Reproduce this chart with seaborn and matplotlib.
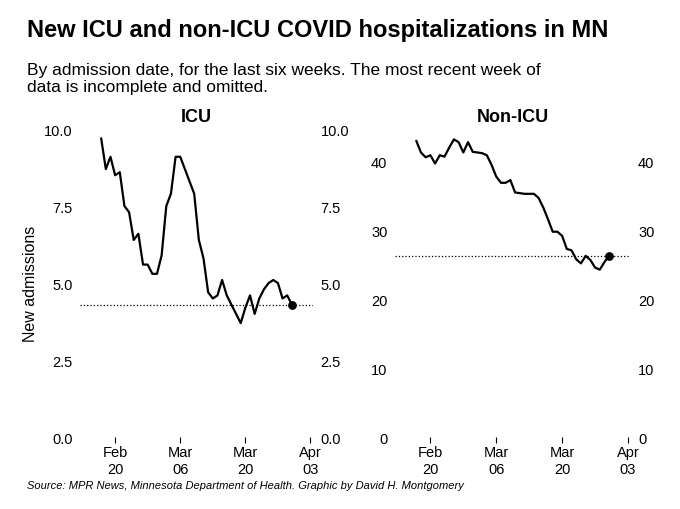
import pandas as pd
import numpy as np
import matplotlib
matplotlib.use('Agg')
import matplotlib.pyplot as plt
import seaborn as sns

dates = pd.date_range('2021-02-17', periods=42, freq='D')
icu = [9.7, 8.7, 9.1, 8.5, 8.6, 7.5, 7.3, 6.4, 6.6, 5.6, 5.6, 5.3, 5.3, 5.9,
       7.5, 7.9, 9.1, 9.1, 8.7, 8.3, 7.9, 6.4, 5.8, 4.7, 4.5, 4.6, 5.1, 4.6,
       4.3, 4.0, 3.7, 4.2, 4.6, 4.0, 4.5, 4.8, 5.0, 5.1, 5.0, 4.5, 4.6, 4.3]
non_icu = [43.0, 41.3, 40.6, 40.9, 39.7, 40.9, 40.7, 42.0, 43.2, 42.8, 41.3,
           42.8, 41.4, 41.3, 41.2, 40.9, 39.5, 37.8, 36.9, 36.9, 37.3, 35.5,
           35.4, 35.3, 35.3, 35.3, 34.7, 33.3, 31.6, 29.8, 29.8, 29.2, 27.3,
           27.1, 25.8, 25.2, 26.3, 25.7, 24.6, 24.3, 25.4, 26.3]
tick_dates = pd.to_datetime(['2021-02-20', '2021-03-06', '2021-03-20', '2021-04-03'])
tick_labels = ['Feb\n20', 'Mar\n06', 'Mar\n20', 'Apr\n03']

sns.set_style('white')
plt.rcParams['font.family'] = ['Liberation Sans', 'DejaVu Sans']
plt.rcParams['text.color'] = 'black'
plt.rcParams['xtick.color'] = 'black'
plt.rcParams['ytick.color'] = 'black'
plt.rcParams['axes.labelcolor'] = 'black'

fig = plt.figure(figsize=(6.8, 5.1), dpi=100)
ax1 = fig.add_axes([0.118, 0.141, 0.342, 0.604])
ax2 = fig.add_axes([0.581, 0.141, 0.346, 0.604])

panels = [(ax1, icu, 'ICU', (0, 10), [0, 2.5, 5, 7.5, 10], '{:.1f}'),
          (ax2, non_icu, 'Non-ICU', (0, 44.7), [0, 10, 20, 30, 40], '{:.0f}')]
for ax, vals, title, ylim, yt, fmt in panels:
    df = pd.DataFrame({'date': dates, 'value': vals})
    sns.lineplot(data=df, x='date', y='value', ax=ax, color='black', lw=1.6)
    ax.axhline(vals[-1], color='black', ls=':', lw=0.9)
    ax.scatter([dates[-1]], [vals[-1]], color='black', s=28, zorder=5)
    ax.set_xlim(pd.Timestamp('2021-02-12 12:00'), pd.Timestamp('2021-04-03 12:00'))
    ax.set_ylim(*ylim)
    ax.set_yticks(yt)
    ax.set_yticklabels([fmt.format(v) for v in yt])
    ax.set_xticks(tick_dates)
    ax.set_xticklabels(tick_labels)
    ax.tick_params(axis='x', bottom=True, length=4, width=0.8, labelsize=10.5, pad=2)
    ax.tick_params(axis='y', left=False, right=False, labelleft=True, labelright=True,
                   labelsize=10.5, pad=2)
    for s in ax.spines.values():
        s.set_visible(False)
    ax.set_xlabel('')
    ax.set_ylabel('')
    ax.set_title(title, fontsize=13, fontweight='bold', pad=6)

ax1.set_ylabel('New admissions', fontsize=11.5)

fig.text(0.04, 0.94, 'New ICU and non-ICU COVID hospitalizations in MN',
         fontsize=17, fontweight='bold', va='center')
fig.text(0.04, 0.845, 'By admission date, for the last six weeks. The most recent week of\n'
         'data is incomplete and omitted.', fontsize=12.5, va='center', linespacing=1.15)
fig.text(0.04, 0.047, 'Source: MPR News, Minnesota Department of Health. Graphic by David H. Montgomery',
         fontsize=8, style='italic', va='center')

fig.savefig('out.png', dpi=100)
